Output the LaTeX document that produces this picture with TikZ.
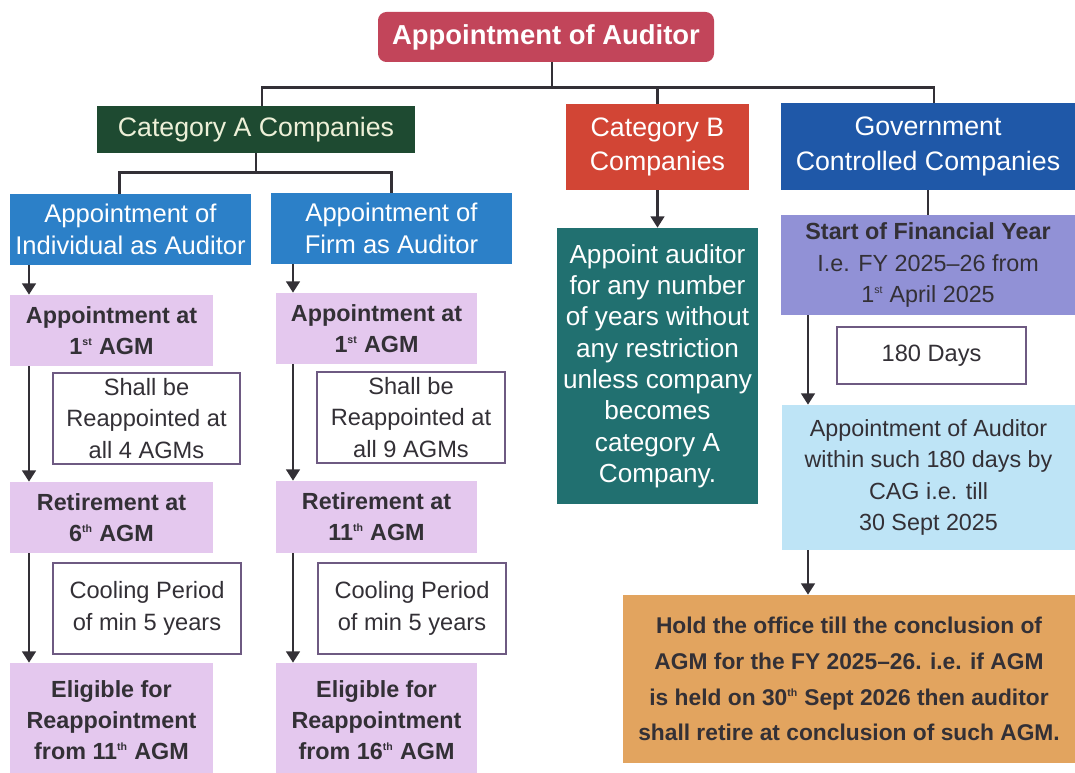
\documentclass[tikz,border=0pt]{standalone}
\usepackage{fontspec}
\setmainfont{Liberation Sans}
\usetikzlibrary{arrows.meta}

\definecolor{titlered}{HTML}{C2455A}
\definecolor{catgreen}{HTML}{1E4A31}
\definecolor{catcream}{HTML}{EDF0D8}
\definecolor{catred}{HTML}{D24535}
\definecolor{govblue}{HTML}{1F58A8}
\definecolor{routeblue}{HTML}{2C80C8}
\definecolor{stagepink}{HTML}{E4C8EE}
\definecolor{noteline}{HTML}{6E5A82}
\definecolor{termteal}{HTML}{217070}
\definecolor{fyviolet}{HTML}{9191D6}
\definecolor{cagsky}{HTML}{BEE4F6}
\definecolor{holdorange}{HTML}{E2A45F}
\definecolor{inkgray}{HTML}{333036}

% small ordinal suffix (1st, 6th, ...)
\newcommand{\ordsup}[1]{\textsuperscript{\fontsize{7.5}{8}\selectfont #1}}

\begin{document}
\begin{tikzpicture}[
    x=0.025cm, y=-0.025cm,
    boxsize/.style 2 args={minimum width=#1*0.025cm, minimum height=#2*0.025cm},
    boxbase/.style={rectangle, inner sep=0pt, align=center},
    head/.style={boxbase, fill=titlered, rounded corners=6pt, text=white, font=\fontsize{19.5}{23}\selectfont\bfseries},
    category/.style={boxbase, text=white, font=\fontsize{19}{24.5}\selectfont},
    route/.style={boxbase, fill=routeblue, text=white, font=\fontsize{18.2}{23}\selectfont},
    stage/.style={boxbase, fill=stagepink, text=inkgray, font=\fontsize{16.6}{22}\selectfont\bfseries},
    note/.style={boxbase, draw=noteline, line width=1pt, fill=white, text=inkgray, font=\fontsize{16.8}{22.5}\selectfont},
    gov/.style={boxbase, text=inkgray, font=\fontsize{16.6}{22.5}\selectfont},
    link/.style={draw=inkgray, line width=2.1pt},
    flow/.style={link, -{Triangle[length=8pt, width=9.5pt]}}
]

% Page
\fill[white] (0,0) rectangle (1075,773);
\useasboundingbox (0,0) rectangle (1075,773);

% Title
\node[head, boxsize={336}{50}] (title) at (546,37) {Appointment of Auditor};

% Company categories
\node[category, fill=catgreen, text=catcream, boxsize={318}{47}] (catA) at (256,129.5) {Category A Companies};
\node[category, fill=catred, boxsize={183}{86}] (catB) at (657.5,147) {Category B\\Companies};
\node[category, fill=govblue, boxsize={294}{87}] (gov) at (928,146.5) {Government\\Controlled Companies};

% Category A: individual or firm
\node[route, boxsize={241}{71}] (indiv) at (130.5,229.5) {Appointment of\\Individual as Auditor};
\node[route, boxsize={241}{71}] (firm) at (391.5,228.5) {Appointment of\\Firm as Auditor};

% Individual as auditor
\node[stage, boxsize={203}{71}] (indivFirst) at (111.5,330.5) {Appointment at\\1\ordsup{st} AGM};
\node[note, boxsize={187}{91}] (indivShall) at (146.5,418.5) {Shall be\\Reappointed at\\all 4 AGMs};
\node[stage, boxsize={203}{71}] (indivRetire) at (111.5,517.5) {Retirement at\\6\ordsup{th} AGM};
\node[note, boxsize={188}{91}] (indivCool) at (147,608.5) {Cooling Period\\of min 5 years};
\node[stage, boxsize={203}{114}] (indivAgain) at (111.5,720) {Eligible for\\Reappointment\\from 11\ordsup{th} AGM};

% Firm as auditor
\node[stage, boxsize={201}{71}] (firmFirst) at (376.5,328.5) {Appointment at\\1\ordsup{st} AGM};
\node[note, boxsize={188}{91}] (firmShall) at (411,417.5) {Shall be\\Reappointed at\\all 9 AGMs};
\node[stage, boxsize={201}{72}] (firmRetire) at (376.5,517) {Retirement at\\11\ordsup{th} AGM};
\node[note, boxsize={188}{91}] (firmCool) at (412,608.5) {Cooling Period\\of min 5 years};
\node[stage, boxsize={201}{114}] (firmAgain) at (376.5,720) {Eligible for\\Reappointment\\from 16\ordsup{th} AGM};

% Category B
\node[boxbase, fill=termteal, text=white, font=\fontsize{18.6}{22.3}\selectfont, boxsize={201}{276}] (catBterm) at (657.5,366)
    {Appoint auditor\\for any number\\of years without\\any restriction\\unless company\\becomes\\category A\\Company.};

% Government controlled
\node[gov, fill=fyviolet, boxsize={294}{100}] (fyStart) at (928,265)
    {\textbf{Start of Financial Year}\\I.e. FY 2025--26 from\\1\ordsup{st} April 2025};
\node[note, boxsize={189}{57}] (days) at (931.5,355.5) {180 Days};
\node[gov, fill=cagsky, boxsize={293}{145}] (cagAppoint) at (928.5,477.5)
    {Appointment of Auditor\\within such 180 days by\\CAG i.e. till\\30 Sept 2025};
\node[gov, fill=holdorange, font=\fontsize{16.2}{25.4}\selectfont\bfseries, boxsize={452}{168}] (holdOffice) at (849,679)
    {Hold the office till the conclusion of\\AGM for the FY 2025--26. i.e. if AGM\\is held on 30\ordsup{th} Sept 2026 then auditor\\shall retire at conclusion of such AGM.};

% Tree lines
\draw[link] (title.south) ++(6,0) -- ++(0,25) coordinate (bus);
\draw[link] (catA.north) ++(6,0) |- (bus) -| ([xshift=0.15cm]gov.north);
\draw[link] (bus -| catB.north) -- (catB.north);
\draw[link] (catA.south) -- ++(0,19) coordinate (splitA);
\draw[link] (indiv.north) ++(-11,0) |- (splitA) -| (firm.north);
\draw[link] (gov.south) -- (fyStart.north);

% Arrow rails
\coordinate (railI) at (29,0);
\coordinate (railF) at (293,0);
\coordinate (railG) at (808,0);

\foreach \a/\b in {indiv/indivFirst, indivFirst/indivRetire, indivRetire/indivAgain} {
    \draw[flow] (\a.south -| railI) -- (\b.north -| railI);
}
\foreach \a/\b in {firm/firmFirst, firmFirst/firmRetire, firmRetire/firmAgain} {
    \draw[flow] (\a.south -| railF) -- (\b.north -| railF);
}
\foreach \a/\b in {fyStart/cagAppoint, cagAppoint/holdOffice} {
    \draw[flow] (\a.south -| railG) -- (\b.north -| railG);
}
\draw[flow] (catB.south) -- (catBterm.north);

\end{tikzpicture}
\end{document}
